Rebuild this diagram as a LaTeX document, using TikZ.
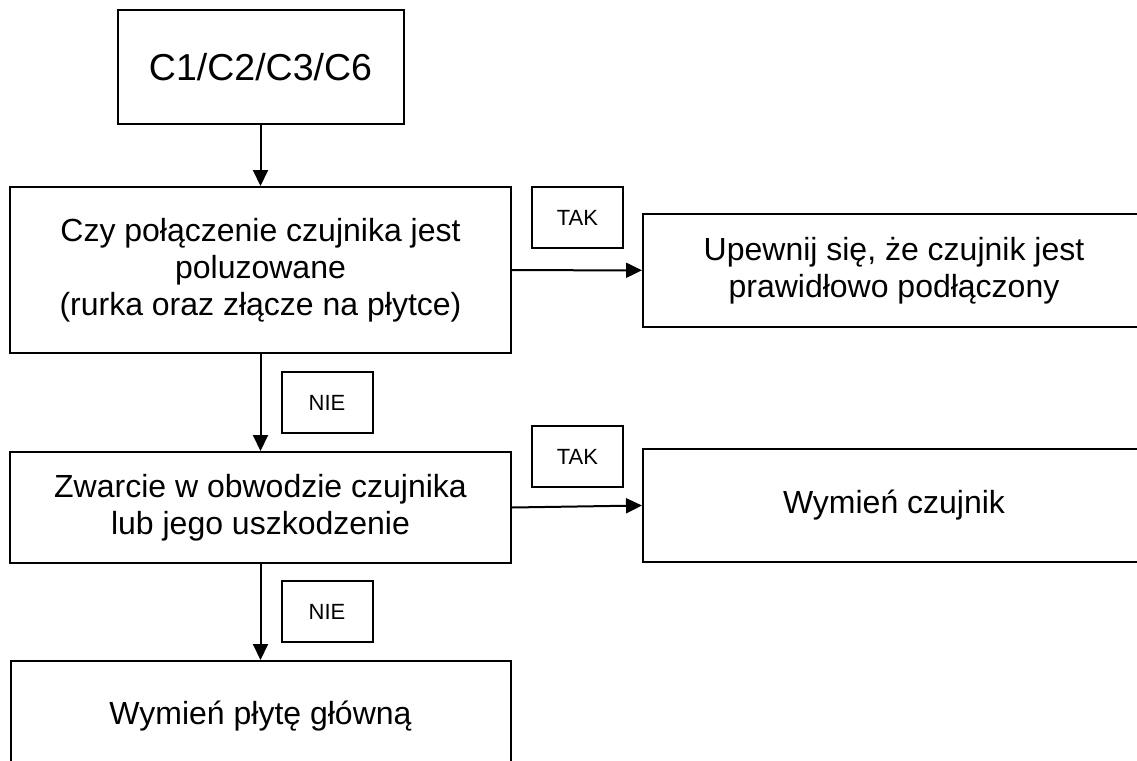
\documentclass[tikz,border=0pt]{standalone}
\usepackage{fontspec}
\setmainfont{Liberation Sans}
\usetikzlibrary{arrows.meta,positioning}

\begin{document}
\begin{tikzpicture}[x=1pt, y=-1pt,
    box/.style={draw, line width=2pt, inner sep=0pt, align=center,
        font=\fontsize{32}{37}\selectfont},
    answer/.style={draw, line width=2pt, inner sep=0pt,
        minimum width=91pt, minimum height=61pt,
        font=\fontsize{22}{26}\selectfont},
    flow/.style={line width=2pt, -{Triangle[length=16pt, width=15pt]}}]
\useasboundingbox (0,0) rectangle (1137,760);

% Main column
\node[box, minimum width=286pt, minimum height=114pt,
    font=\fontsize{37.5}{45}\selectfont] (start) at (260.5,67) {C1/C2/C3/C6};
\node[box, minimum width=501pt, minimum height=166pt] (loose) at (260.5,270)
    {Czy połączenie czujnika jest\\poluzowane\\(rurka oraz złącze na płytce)};
\node[box, minimum width=501pt, minimum height=111pt] (short) at (260.5,507.5)
    {Zwarcie w obwodzie czujnika\\lub jego uszkodzenie};
\node[box, minimum width=500pt, minimum height=111pt] (board) at (260.5,716.5)
    {Wymień płytę główną};

% Fixes
\node[box, minimum width=502pt, minimum height=113pt] (connect) at (894,270.5)
    {Upewnij się, że czujnik jest\\prawidłowo podłączony};
\node[box, minimum width=502pt, minimum height=113pt] (sensor) at (894,505.5)
    {Wymień czujnik};

% Answers
\node[answer] (yes1) at (577.5,217.5) {TAK};
\node[answer] (yes2) at (577.5,456.5) {TAK};
\node[answer] (no1) at (327,402.5) {NIE};
\node[answer] (no2) at (327,611.5) {NIE};

% Connectors
\draw[flow] (start) -- (loose);
\draw[flow] (loose) -- (short);
\draw[flow] (short) -- (board);
\draw[flow] (loose) -- (connect);
\draw[flow] (short.east) -- (sensor.west);
\end{tikzpicture}
\end{document}
